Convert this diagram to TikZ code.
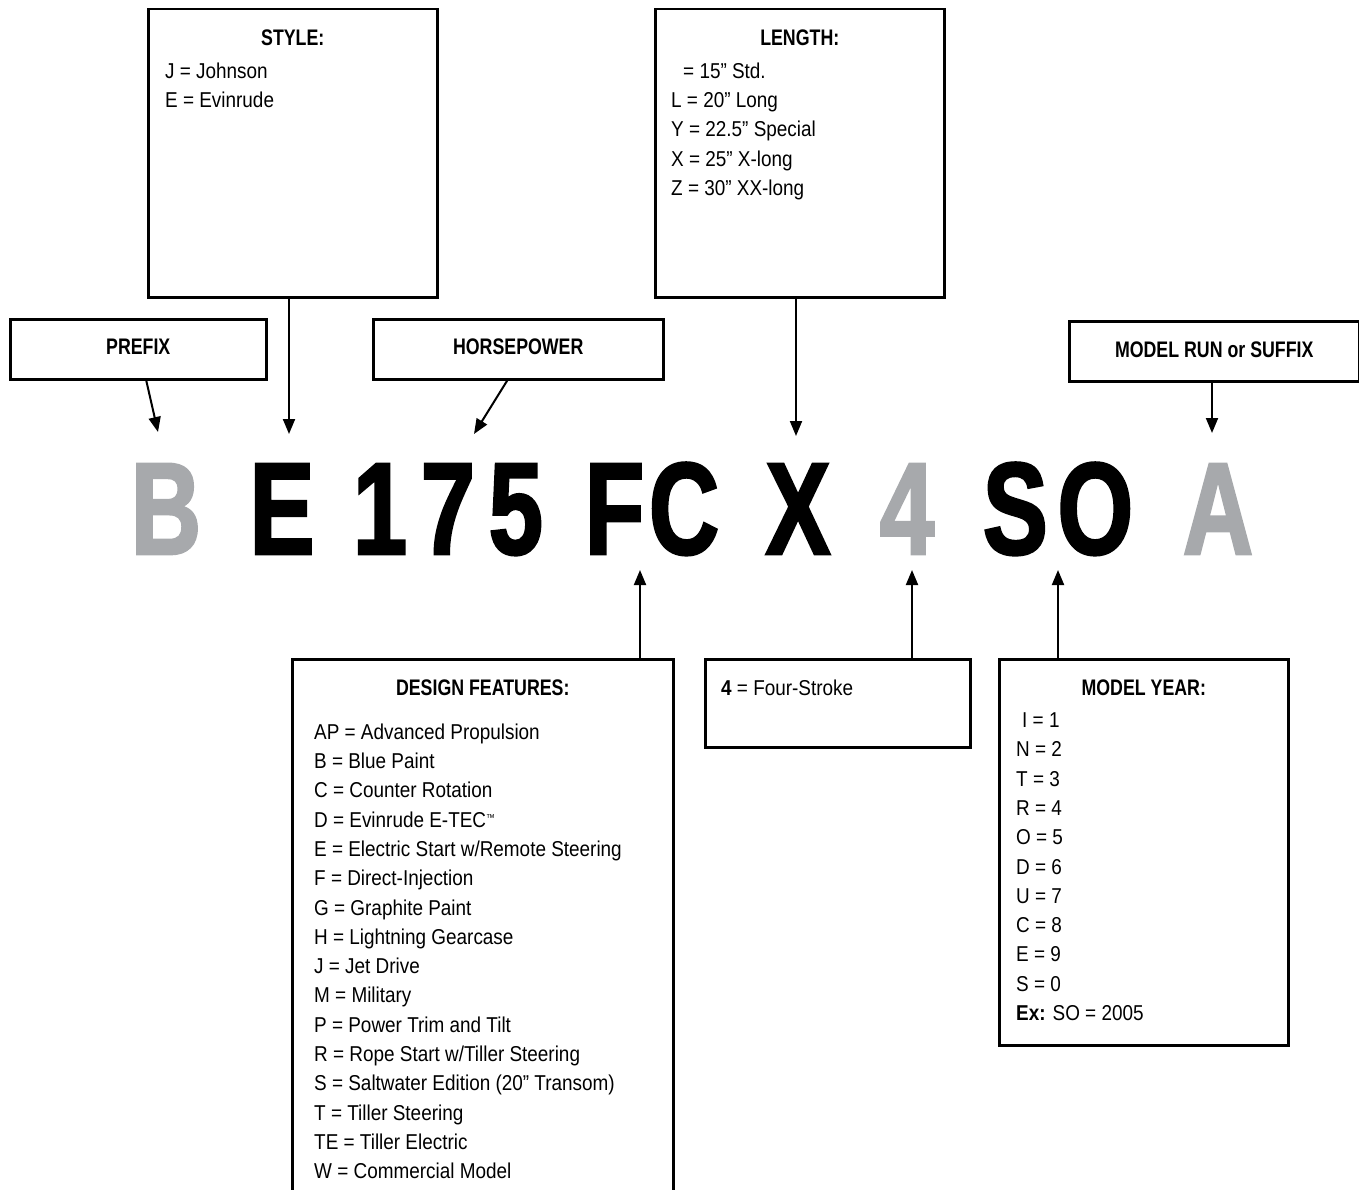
\documentclass[tikz,border=0pt]{standalone}
\usepackage{fontspec}
\setmainfont{Liberation Sans}[FakeStretch=0.88]
\newfontfamily\headfont{Liberation Sans}[FakeStretch=0.79]
\newfontfamily\bigfont{Liberation Sans}[FakeStretch=0.74, FakeBold=2]
\usepackage{tikz}
\usetikzlibrary{arrows.meta}
\definecolor{codegray}{RGB}{167,169,172}

\tikzset{
  box/.style={draw, line width=2.5pt, inner sep=0pt, anchor=north west},
  title/.style={font=\headfont\bfseries\fontsize{22.5}{27}\selectfont, inner sep=0pt, anchor=base},
  entry/.style={font=\fontsize{21.5}{29.3}\selectfont, align=left, inner sep=0pt, anchor=north west},
  code/.style={font=\bigfont\bfseries\fontsize{131}{133}\selectfont, inner sep=0pt, anchor=base},
  arr/.style={line width=2pt, -{Triangle[length=15pt,width=12pt]}},
}
\newcommand{\tmark}{\raisebox{6pt}{\fontsize{10}{10}\selectfont ™}}

\begin{document}
\begin{tikzpicture}[x=1pt,y=-1pt]
            \useasboundingbox (0,0) rectangle (1359,1190);

            \node [box, minimum width=289pt, minimum height=288pt] (style) at (147,8) {};
            \node [box, minimum width=289pt, minimum height=288pt] (length) at (654,8) {};
            \node [box, minimum width=256pt, minimum height=60pt] (prefix) at (9,318) {};
            \node [box, minimum width=290pt, minimum height=60pt] (hp) at (372,318) {};
            \node [box, minimum width=290pt, minimum height=60pt] (run) at (1068,320) {};
            \node [box, minimum width=381pt, minimum height=560pt] (design) at (291,658) {};
            \node [box, minimum width=265pt, minimum height=88pt] (stroke) at (704,658) {};
            \node [box, minimum width=289pt, minimum height=386pt] (year) at (998,658) {};

            \node [title] (styletitle) at (style.north |- 0,46) {STYLE:};
            \node [title] (lengthtitle) at (length.north |- 0,46) {LENGTH:};
            \node [title] (prefixtitle) at (prefix.north |- 0,354) {PREFIX};
            \node [title] (hptitle) at (hp.north |- 0,354) {HORSEPOWER};
            \node [title] (runtitle) at (run.north |- 0,357) {MODEL RUN or SUFFIX};
            \node [title] (designtitle) at (design.north |- 0,695) {DESIGN FEATURES:};
            \node [title] (yeartitle) at (year.north |- 0,695) {MODEL YEAR:};

            \node [entry] (stylelist) at (165,62.5) {J = Johnson\\E = Evinrude};
            \node [entry] (lengthlist) at (671,62.5) {\hspace*{12pt}= 15” Std.\\L = 20” Long\\Y = 22.5” Special\\X = 25” X-long\\Z = 30” XX-long};
            \node [entry] (designlist) at (314,723.5) {AP = Advanced Propulsion\\B = Blue Paint\\C = Counter Rotation\\D = Evinrude E-TEC\tmark\\E = Electric Start w/Remote Steering\\F = Direct-Injection\\G = Graphite Paint\\H = Lightning Gearcase\\J = Jet Drive\\M = Military\\P = Power Trim and Tilt\\R = Rope Start w/Tiller Steering\\S = Saltwater Edition (20” Transom)\\T = Tiller Steering\\TE = Tiller Electric\\W = Commercial Model};
            \node [entry, anchor=base west] (strokelist) at (721,695) {\textbf{4} = Four-Stroke};
            \node [entry] (yearlist) at (1016,712.5) {\hspace*{6pt}I = 1\\N = 2\\T = 3\\R = 4\\O = 5\\D = 6\\U = 7\\C = 8\\E = 9\\S = 0\\\textbf{Ex:} SO = 2005};

            \node [code, text=codegray] (cb) at (166,554) {B};
            \node [code] (ce) at (282,554) {E};
            \node [code] (chp) at (448,554) {1\kern14pt7\kern14pt5};
            \node [code] (cfc) at (652,554) {F\kern5ptC};
            \node [code] (cx) at (798,554) {X};
            \node [code, text=codegray] (cfour) at (907,554) {4};
            \node [code] (cso) at (1058,554) {S\kern10ptO};
            \node [code, text=codegray] (ca) at (1218,554) {A};

            \coordinate (tipb) at (158,432);
            \coordinate (tipe) at (289,434);
            \coordinate (tiphp) at (474,434);
            \coordinate (tipx) at (796,436);
            \coordinate (tipa) at (1212,433);
            \coordinate (tipfc) at (640,570);
            \coordinate (tipfour) at (912,570);
            \coordinate (tipso) at (1058,570);

            \draw [arr] ([xshift=8pt]prefix.south) -- (tipb);
            \draw [arr] (tipe |- style.south) -- (tipe);
            \draw [arr] ([xshift=-11pt]hp.south) -- (tiphp);
            \draw [arr] (tipx |- length.south) -- (tipx);
            \draw [arr] (tipa |- run.south) -- (tipa);
            \draw [arr] (tipfc |- design.north) -- (tipfc);
            \draw [arr] (tipfour |- stroke.north) -- (tipfour);
            \draw [arr] (tipso |- year.north) -- (tipso);
\end{tikzpicture}
\end{document}
